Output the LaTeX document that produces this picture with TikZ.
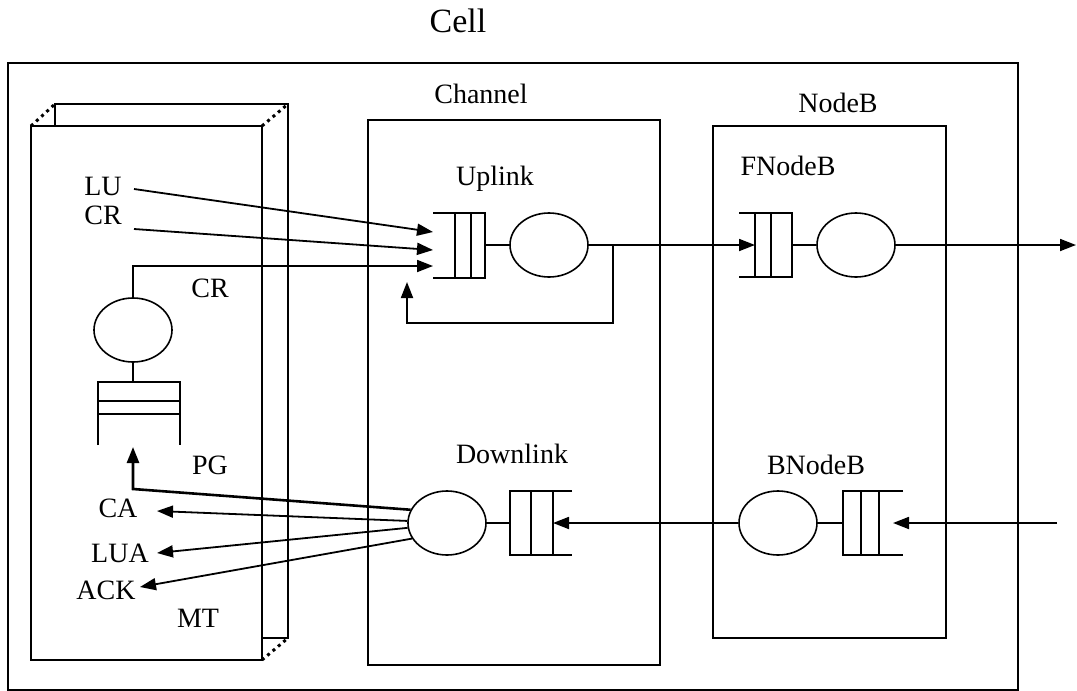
\documentclass[tikz,border=0pt]{standalone}
\usepackage{fontspec}
\setmainfont{Liberation Serif}
\usetikzlibrary{arrows.meta,shapes.geometric}

\begin{document}
\begin{tikzpicture}[x=0.5pt,y=-0.5pt,
    every node/.style={font=\fontsize{14}{16}\selectfont},
    lbl/.style={anchor=base, inner sep=0pt},
    srv/.style={draw, ellipse, line width=0.8pt, minimum width=39pt,
      minimum height=32pt, inner sep=0pt},
    ln/.style={line width=0.9pt},
    arr/.style={line width=0.9pt, -{Triangle[length=8pt,width=6pt]}}]

        \useasboundingbox (0,0) rectangle (1077,691);

        % ==================================================
        % Frames: cell, MT, channel, NodeB
        % ==================================================
        \draw[ln] (8,63) rectangle (1018,690);
        \node[lbl, font=\fontsize{17}{20}\selectfont] (cell) at (458,32) {Cell};

        % -- MT drawn as a box seen from the front
        \draw[ln] (31,126) rectangle (262,660);
        \draw[ln] (55,126) -- (55,104) -- (288,104) -- (288,638) -- (262,638);
        %    dotted edges between front and back
        \draw[dotted, line width=1.5pt] (31,126) -- (55,104);
        \draw[dotted, line width=1.5pt] (262,126) -- (288,104);
        \draw[dotted, line width=1.5pt] (262,660) -- (288,638);

        \draw[ln] (368,120) rectangle (660,665);
        \node[lbl] (channel) at (481,103) {Channel};

        \draw[ln] (713,126) rectangle (946,638);
        \node[lbl] (nodeb) at (838,112) {NodeB};

        % ==================================================
        % Uplink (queue + server) and FNodeB
        % ==================================================
        \node[lbl] (uplink) at (495,185) {Uplink};
        %    queue, open to the left
        \draw[ln] (433,213) -- (485,213) -- (485,278) -- (433,278);
        \draw[ln] (455,213) -- (455,278);
        \draw[ln] (471,213) -- (471,278);
        \coordinate (upqend) at (485,245);
        \node[srv] (upsrv) at (549,245) {};
        \draw[ln] (upqend) -- (upsrv);

        \node[lbl] (fnodeb) at (788,175) {FNodeB};
        \draw[ln] (739,213) -- (792,213) -- (792,277) -- (739,277);
        \draw[ln] (755,213) -- (755,277);
        \draw[ln] (771,213) -- (771,277);
        \coordinate (fqin) at (755,245);
        \coordinate (fqend) at (792,245);
        \node[srv] (fsrv) at (856,245) {};
        \draw[ln] (fqend) -- (fsrv);
        \coordinate (out) at (1076,245);

        \draw[arr] (upsrv.east) -- (fqin);
        \draw[arr] (fsrv.east) -- (out);

        % -- feedback loop back into the uplink queue
        \coordinate (fbtop) at (613,245);
        \coordinate (fbbot) at (613,323);
        \coordinate (fbleft) at (407,323);
        \coordinate (fbtip) at (407,282);
        \draw[arr] (fbtop) -- (fbbot) -- (fbleft) -- (fbtip);

        % ==================================================
        % Downlink and BNodeB
        % ==================================================
        \node[lbl] (downlink) at (512,463) {Downlink};
        \node[srv] (dnsrv) at (447,523) {};
        %    queue, open to the right
        \draw[ln] (572,491) -- (510,491) -- (510,555) -- (572,555);
        \draw[ln] (531,491) -- (531,555);
        \draw[ln] (553,491) -- (553,555);
        \coordinate (dlqend) at (510,523);
        \coordinate (dlqin) at (553,523);
        \draw[ln] (dnsrv) -- (dlqend);

        \node[lbl] (bnodeb) at (816,474) {BNodeB};
        \node[srv] (bsrv) at (778,523) {};
        \draw[ln] (903,491) -- (843,491) -- (843,555) -- (903,555);
        \draw[ln] (861,491) -- (861,555);
        \draw[ln] (879,491) -- (879,555);
        \coordinate (bqend) at (843,523);
        \coordinate (bqin) at (893,523);
        \draw[ln] (bsrv) -- (bqend);
        \coordinate (in) at (1057,523);

        \draw[arr] (in) -- (bqin);
        \draw[arr] (bsrv.west) -- (dlqin);

        % ==================================================
        % MT: messages, paging queue and server
        % ==================================================
        \node[lbl] (lu) at (103,195) {LU};
        \node[lbl] (cr) at (103,224) {CR};
        \node[lbl] (crq) at (210,297) {CR};
        \node[lbl] (pg) at (210,474) {PG};
        \node[lbl] (ca) at (118,517) {CA};
        \node[lbl] (lua) at (120,562) {LUA};
        \node[lbl] (ack) at (106,599) {ACK};
        \node[lbl] (mt) at (198,627) {MT};

        \node[srv] (mtsrv) at (133,330) {};
        %    queue, open at the bottom
        \draw[ln] (98,445) -- (98,382) -- (180,382) -- (180,445);
        \draw[ln] (98,401) -- (180,401);
        \draw[ln] (98,414) -- (180,414);
        \coordinate (mtqend) at (133,382);
        \coordinate (mtqin) at (133,447);
        \draw[ln] (mtsrv) -- (mtqend);

        % -- requests into the uplink queue
        \coordinate (lustart) at (134,189);
        \coordinate (crstart) at (134,229);
        \coordinate (upin1) at (433,232);
        \coordinate (upin2) at (433,250);
        \coordinate (upin3) at (433,266);
        \draw[arr] (lustart) -- (upin1);
        \draw[arr] (crstart) -- (upin2);
        \draw[arr] (mtsrv.north) |- (upin3);

        % -- answers from the downlink server
        \coordinate (pgbend) at (133,489);
        \coordinate (catip) at (157,511);
        \coordinate (luatip) at (157,553);
        \coordinate (acktip) at (140,587);
        \draw[arr, line width=1.3pt] (dnsrv.160) -- (pgbend) -- (mtqin);
        \draw[arr] (dnsrv.177) -- (catip);
        \draw[arr] (dnsrv.187) -- (luatip);
        \draw[arr] (dnsrv.204) -- (acktip);

      \end{tikzpicture}
\end{document}
